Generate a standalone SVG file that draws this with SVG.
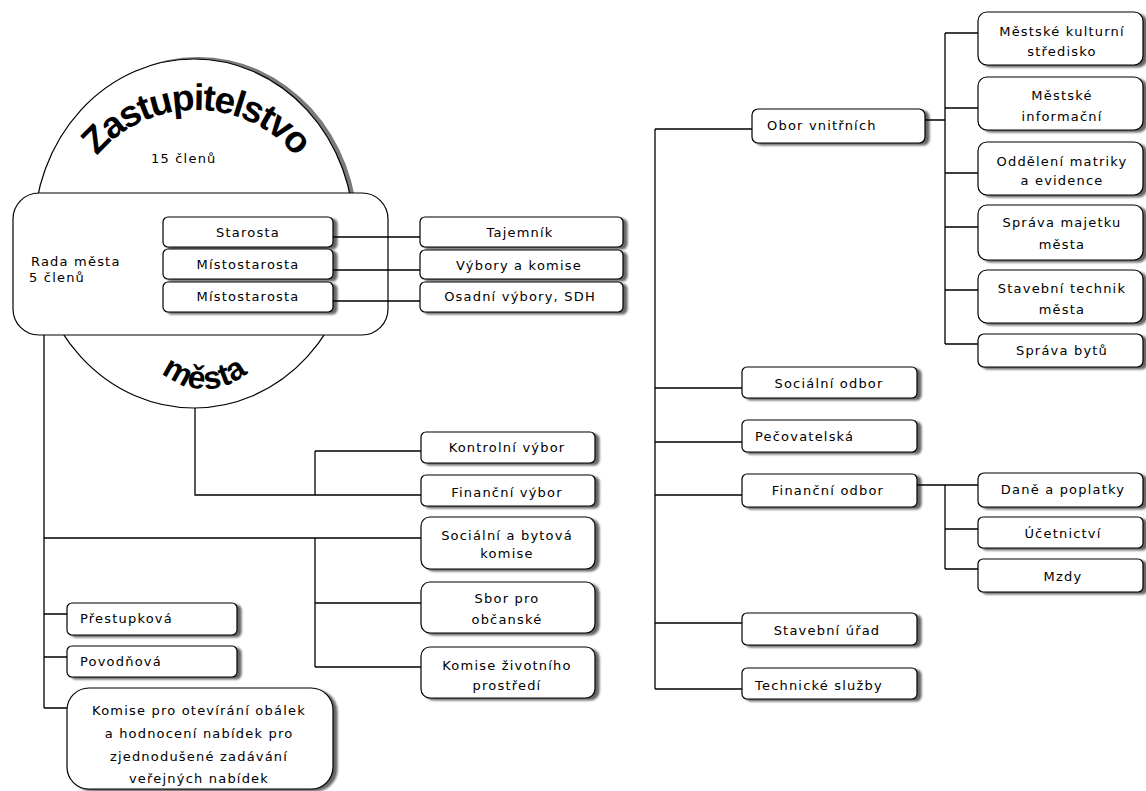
<svg xmlns="http://www.w3.org/2000/svg" width="1146" height="791" viewBox="0 0 1146 791">
<style>
.b{fill:#fff;stroke:#000;stroke-width:1.2;filter:url(#ds)}
.t{font-family:"DejaVu Sans","Liberation Sans",sans-serif;font-size:13px;letter-spacing:1.2px;fill:#000}
.c{text-anchor:middle}
.big{font-family:"Liberation Sans",Arial,sans-serif;font-weight:bold;fill:#000}
#conn path{fill:none;stroke:#000;stroke-width:1.3}
</style>
<defs>
<filter id="ds" x="-5%" y="-15%" width="115%" height="140%">
<feGaussianBlur in="SourceAlpha" stdDeviation="1"/>
<feOffset dx="4" dy="2" result="o"/>
<feComponentTransfer><feFuncA type="linear" slope="0.6"/></feComponentTransfer>
<feMerge><feMergeNode/><feMergeNode in="SourceGraphic"/></feMerge>
</filter>
<clipPath id="topclip"><rect x="0" y="0" width="400" height="200"/></clipPath>
<path id="arcTop" d="M 66 240 A 130 130 0 0 1 326 240"/>
<path id="arcBot" d="M 140 324 A 65 65 0 0 0 270 324"/>
</defs>
<rect width="1146" height="791" fill="#fff"/>

<g id="zastupitelstvo">
<ellipse cx="198" cy="231.5" rx="160" ry="174.5" fill="#7a7a7a" clip-path="url(#topclip)"/>
<ellipse cx="194" cy="233.5" rx="160" ry="174.5" fill="#fff" stroke="#000" stroke-width="1.2"/>
<text class="big" font-size="37" letter-spacing="-1.8"><textPath href="#arcTop" startOffset="50%" text-anchor="middle">Zastupitelstvo</textPath></text>
<text class="t" x="151" y="163">15 členů</text>
<text class="big" font-size="32" letter-spacing="0.5"><textPath href="#arcBot" startOffset="50%" text-anchor="middle">města</textPath></text>
</g>

<g id="rada">
<rect x="13" y="193" width="375" height="142" rx="26" fill="#fff" stroke="#000" stroke-width="1.2"/>
<text class="t" x="31" y="266">Rada města</text>
<text class="t" x="29" y="282">5 členů</text>
</g>

<g id="conn">
<path d="M333 237H420M333 270H420M333 301H420"/>
<path d="M44 335V708M44 538H421M44 614H67M44 657H67M44 708H67"/>
<path d="M195 408V495H421M315 451V495M315 451H421"/>
<path d="M315 538V667M315 603H421M315 667H421"/>
<path d="M655 129V689M655 129H752M655 388H742M655 442H742M655 495H742M655 623H742M655 689H742"/>
<path d="M925 120H945M945 33V344M945 33H978M945 108H978M945 173H978M945 227H978M945 290H978M945 344H978"/>
<path d="M917 485H978M945 485V569M945 529H978M945 569H978"/>
</g>

<g id="starosta"><rect class="b" x="163" y="217" width="170" height="30" rx="5"/><text class="t c" x="248" y="237">Starosta</text></g>
<g id="mistostarosta1"><rect class="b" x="163" y="249" width="170" height="30" rx="5"/><text class="t c" x="248" y="269">Místostarosta</text></g>
<g id="mistostarosta2"><rect class="b" x="163" y="282" width="170" height="30" rx="5"/><text class="t c" x="248" y="301">Místostarosta</text></g>

<g id="tajemnik"><rect class="b" x="420" y="217" width="203" height="30" rx="5"/><text class="t c" x="520" y="237">Tajemník</text></g>
<g id="vybory"><rect class="b" x="420" y="250" width="203" height="29" rx="5"/><text class="t c" x="519" y="270">Výbory a komise</text></g>
<g id="osadni"><rect class="b" x="420" y="282" width="203" height="30" rx="5"/><text class="t c" x="520" y="301">Osadní výbory, SDH</text></g>

<g id="kontrolni"><rect class="b" x="421" y="432" width="174" height="31" rx="5"/><text class="t c" x="507" y="452">Kontrolní výbor</text></g>
<g id="financni-vybor"><rect class="b" x="421" y="475" width="174" height="31" rx="5"/><text class="t c" x="507" y="497">Finanční výbor</text></g>
<g id="socialni-komise"><rect class="b" x="421" y="517" width="174" height="52" rx="9"/><text class="t c" x="507" y="540">Sociální a bytová</text><text class="t c" x="507" y="558">komise</text></g>
<g id="sbor"><rect class="b" x="421" y="582" width="174" height="51" rx="9"/><text class="t c" x="507" y="603">Sbor pro</text><text class="t c" x="507" y="624">občanské</text></g>
<g id="komise-zp"><rect class="b" x="421" y="647" width="174" height="51" rx="9"/><text class="t c" x="507" y="670">Komise životního</text><text class="t c" x="507" y="690">prostředí</text></g>

<g id="prestupkova"><rect class="b" x="67" y="603" width="170" height="32" rx="5"/><text class="t" x="80" y="623">Přestupková</text></g>
<g id="povodnova"><rect class="b" x="67" y="646" width="170" height="31" rx="5"/><text class="t" x="80" y="666">Povodňová</text></g>
<g id="komise-obalky"><rect class="b" x="67" y="688" width="266" height="101" rx="22"/>
<text class="t c" x="199" y="715">Komise pro otevírání obálek</text>
<text class="t c" x="199" y="738">a hodnocení nabídek pro</text>
<text class="t c" x="199" y="761">zjednodušené zadávání</text>
<text class="t c" x="199" y="783">veřejných nabídek</text></g>

<g id="obor-vnitrnich"><rect class="b" x="752" y="109" width="173" height="34" rx="6"/><text class="t" x="767" y="130">Obor vnitřních</text></g>
<g id="socialni-odbor"><rect class="b" x="742" y="367" width="175" height="31" rx="5"/><text class="t c" x="829" y="388">Sociální odbor</text></g>
<g id="pecovatelska"><rect class="b" x="742" y="420" width="175" height="32" rx="5"/><text class="t" x="755" y="441">Pečovatelská</text></g>
<g id="financni-odbor"><rect class="b" x="742" y="474" width="175" height="33" rx="5"/><text class="t c" x="828" y="495">Finanční odbor</text></g>
<g id="stavebni-urad"><rect class="b" x="742" y="613" width="175" height="32" rx="5"/><text class="t c" x="827" y="635">Stavební úřad</text></g>
<g id="technicke-sluzby"><rect class="b" x="742" y="668" width="175" height="31" rx="5"/><text class="t" x="755" y="690">Technické služby</text></g>

<g id="mks"><rect class="b" x="978" y="12" width="165" height="53" rx="9"/><text class="t c" x="1062" y="36">Městské kulturní</text><text class="t c" x="1062" y="56">středisko</text></g>
<g id="mic"><rect class="b" x="978" y="77" width="165" height="53" rx="9"/><text class="t c" x="1062" y="100">Městské</text><text class="t c" x="1062" y="121">informační</text></g>
<g id="matrika"><rect class="b" x="978" y="142" width="165" height="53" rx="9"/><text class="t c" x="1062" y="166">Oddělení matriky</text><text class="t c" x="1062" y="185">a evidence</text></g>
<g id="majetek"><rect class="b" x="978" y="205" width="165" height="55" rx="9"/><text class="t c" x="1062" y="227">Správa majetku</text><text class="t c" x="1062" y="249">města</text></g>
<g id="technik"><rect class="b" x="978" y="270" width="165" height="53" rx="9"/><text class="t c" x="1062" y="293">Stavební technik</text><text class="t c" x="1062" y="314">města</text></g>
<g id="byty"><rect class="b" x="978" y="334" width="165" height="33" rx="6"/><text class="t c" x="1062" y="355">Správa bytů</text></g>
<g id="dane"><rect class="b" x="978" y="473" width="165" height="34" rx="6"/><text class="t c" x="1063" y="494">Daně a poplatky</text></g>
<g id="ucetnictvi"><rect class="b" x="978" y="517" width="165" height="31" rx="5"/><text class="t c" x="1063" y="538">Účetnictví</text></g>
<g id="mzdy"><rect class="b" x="978" y="559" width="165" height="33" rx="5"/><text class="t c" x="1063" y="581">Mzdy</text></g>
</svg>
